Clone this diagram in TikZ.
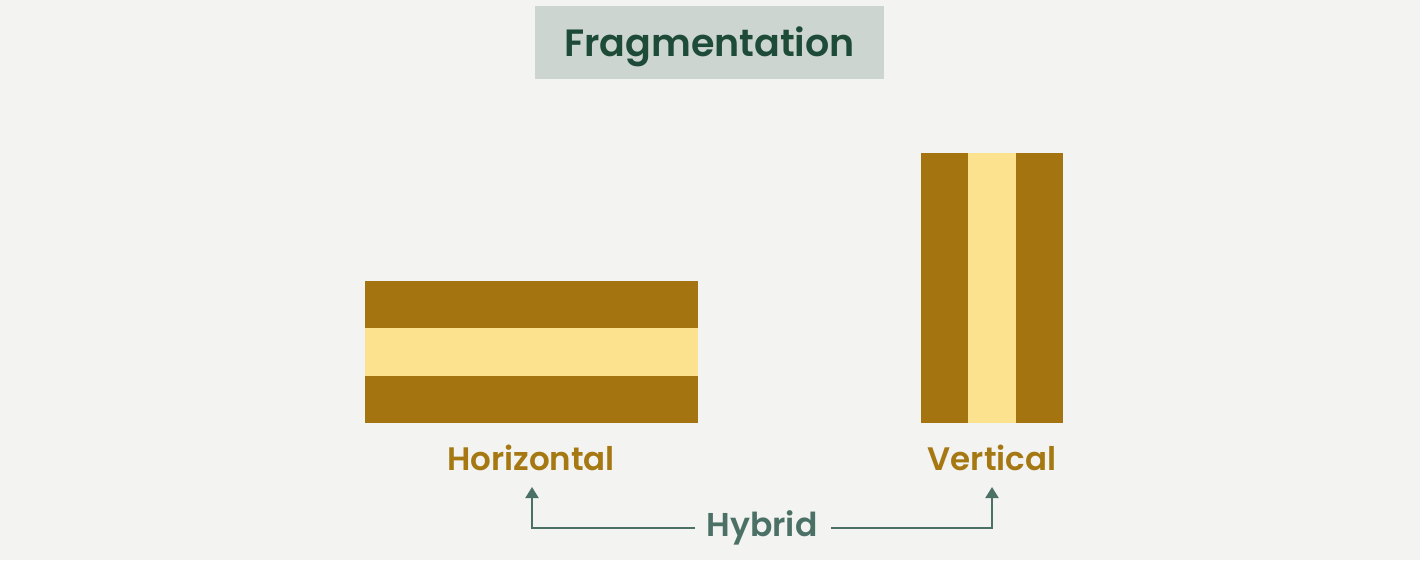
\documentclass[tikz,border=0pt]{standalone}
\usepackage{fontspec}
\setmainfont{Poppins}[BoldFont={* SemiBold}]
\usetikzlibrary{arrows.meta}
\definecolor{paper}{HTML}{F3F3F1}
\definecolor{titlebg}{HTML}{CCD5D0}
\definecolor{titlefg}{HTML}{1E4B38}
\definecolor{darkband}{HTML}{A3740F}
\definecolor{lightband}{HTML}{FCE18F}
\definecolor{labelfg}{HTML}{A57811}
\definecolor{hybridfg}{HTML}{4B7166}
\tikzset{
  band/.style={inner sep=0pt, outer sep=0pt, draw=none},
  dark/.style={band, fill=darkband},
  light/.style={band, fill=lightband},
  kind/.style={text=labelfg, font=\bfseries\fontsize{32.5}{36}\selectfont, inner sep=0pt, anchor=base},
  link/.style={draw=hybridfg, line width=2pt, -{Triangle[width=13pt,length=11pt]}}
}
\begin{document}
\begin{tikzpicture}[x=1pt,y=-1pt]
  % page
  \fill[paper] (0,0) rectangle (1420,560);
  \useasboundingbox (0,0) rectangle (1420,560);

  % title
  \node[fill=titlebg, minimum width=349pt, minimum height=73pt, inner sep=0pt] (titlebox) at (709.5,42.5) {};
  \node[text=titlefg, font=\bfseries\fontsize{38}{42}\selectfont, inner sep=0pt, anchor=base] (title) at (709.5,56) {Fragmentation};

  % horizontal fragmentation: three stacked bands
  \node[dark,  minimum width=333pt, minimum height=47pt] (h1) at (531.5,304.5) {};
  \node[light, minimum width=333pt, minimum height=48pt] (h2) at (531.5,352) {};
  \node[dark,  minimum width=333pt, minimum height=47pt] (h3) at (531.5,399.5) {};

  % vertical fragmentation: three side-by-side bands
  \node[dark,  minimum width=47pt, minimum height=270pt] (v1) at (944.5,288) {};
  \node[light, minimum width=48pt, minimum height=270pt] (v2) at (992,288) {};
  \node[dark,  minimum width=47pt, minimum height=270pt] (v3) at (1039.5,288) {};

  % labels
  \node[kind] (hor) at (531,470) {Horizontal};
  \node[kind] (ver) at (992,470) {Vertical};
  \node[text=hybridfg, font=\bfseries\fontsize{33}{36}\selectfont, inner sep=0pt, anchor=base] (hyb) at (762,536) {Hybrid};

  % connectors
  \coordinate (htip) at (532,487);
  \coordinate (vtip) at (992,487);
  \coordinate (hstart) at (695,528);
  \coordinate (vstart) at (831,528);
  \draw[link] (hstart) -| (htip);
  \draw[link] (vstart) -| (vtip);
\end{tikzpicture}
\end{document}
